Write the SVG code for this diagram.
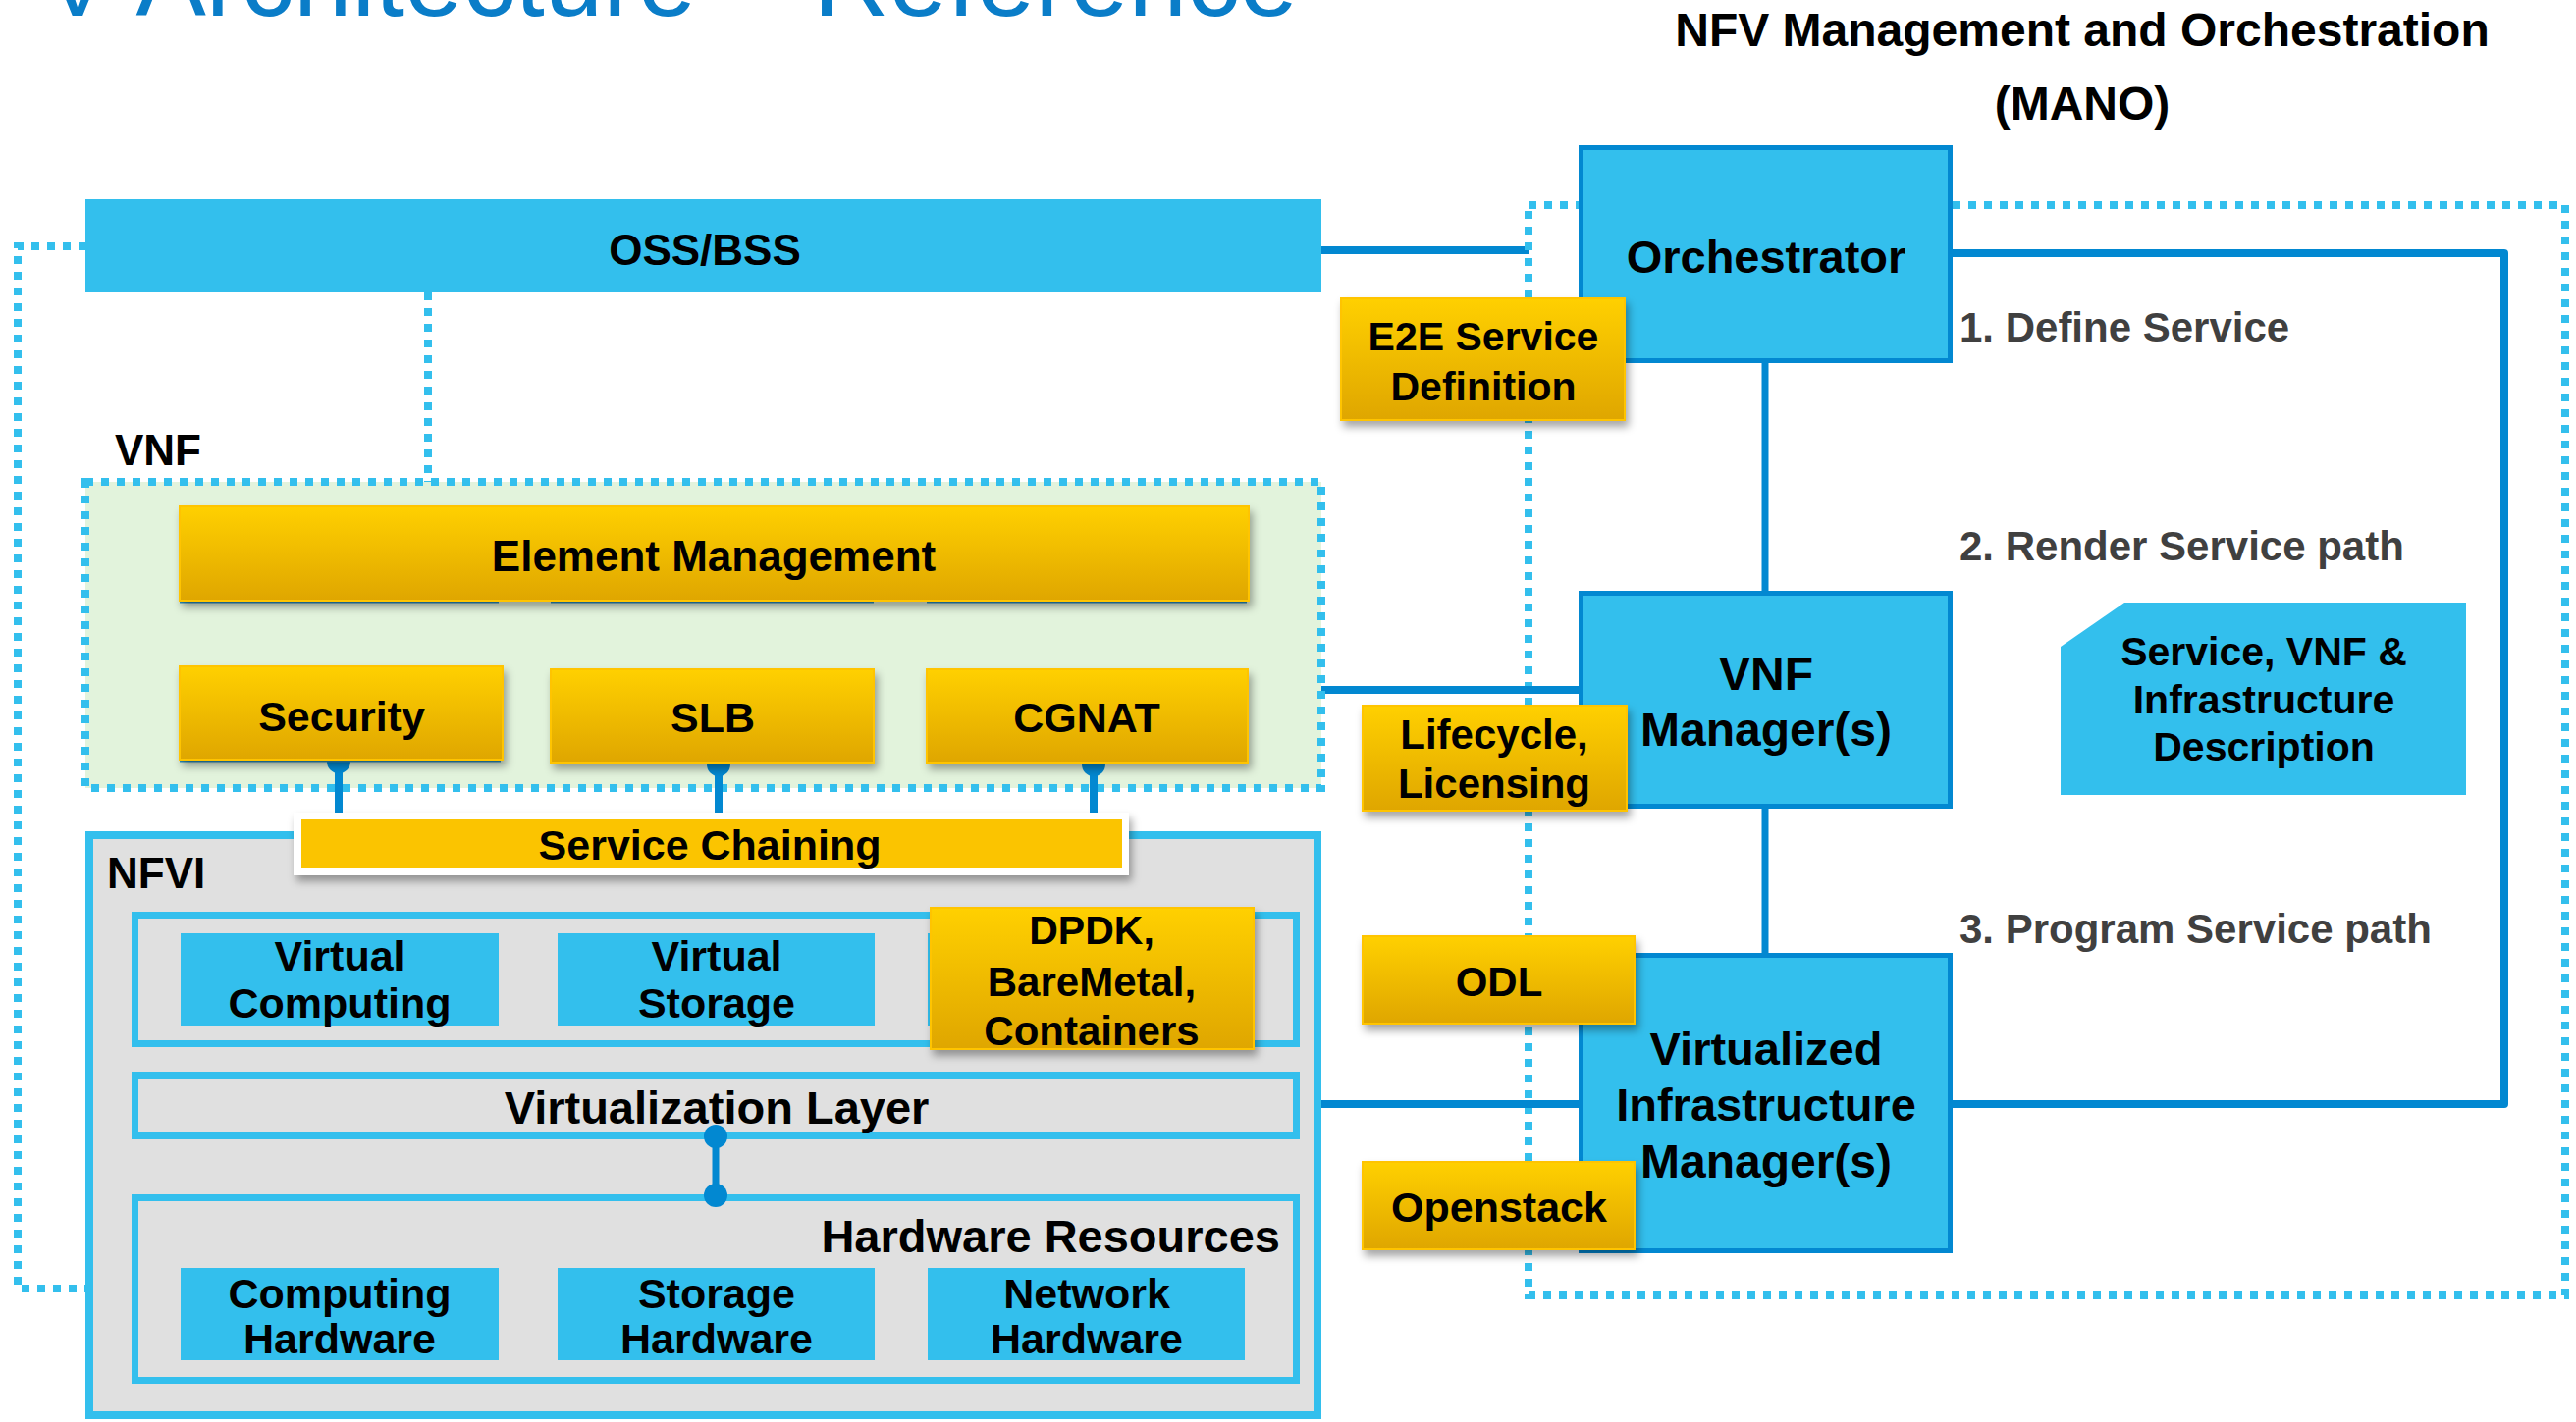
<svg xmlns="http://www.w3.org/2000/svg" width="2624" height="1449" viewBox="0 0 2624 1449">
<defs>
<linearGradient id="yg" x1="0" y1="0" x2="0" y2="1">
<stop offset="0" stop-color="#ffd000"/>
<stop offset="1" stop-color="#dfa600"/>
</linearGradient>
<filter id="sh" x="-10%" y="-10%" width="125%" height="140%">
<feDropShadow dx="3" dy="6" stdDeviation="4" flood-color="#000" flood-opacity="0.35"/>
</filter>
</defs>
<style>
.t{font-family:"Liberation Sans",Arial,sans-serif;font-weight:bold;fill:#000;text-anchor:middle;font-size:43px}
.s{text-anchor:start}
.e{text-anchor:end}
.step{font-family:"Liberation Sans",Arial,sans-serif;font-weight:bold;fill:#404040;font-size:42px}
.dot{fill:none;stroke:#33bfed;stroke-width:8;stroke-dasharray:8 8}
.sky{fill:#33bfed}
.frame{fill:#e0e0e0;stroke:#33bfed;stroke-width:7}
.mano{fill:#33bfed;stroke:#0288d1;stroke-width:5}
.yel{fill:url(#yg);stroke:#ffc400;stroke-width:2;filter:url(#sh)}
.conn{stroke:#0288d1;stroke-width:8;fill:none}
.thin{stroke:#2a8fc0;stroke-width:3}
</style>
<rect width="2624" height="1449" fill="#fff"/>
<text x="1322" y="16" font-family="'Liberation Sans',Arial,sans-serif" font-size="107" fill="#0a7dc8" text-anchor="end">NFV Architecture – Reference</text>

<g id="mano-frame">
<path class="conn" d="M1346,255 H1557"/>
<rect x="1557" y="209" width="1056" height="1111" fill="#f4f4f4" class="dot"/>
<text class="t" x="2121" y="47" font-size="48" style="font-size:48px">NFV Management and Orchestration</text>
<text class="t" x="2121" y="122" style="font-size:48px">(MANO)</text>
</g>

<g id="connectors">
<path class="dot" d="M88,251 H18 V1313 H130"/>
<path class="dot" d="M436,298 V491"/>
<path class="dot" d="M339,612 V680 M728,612 V682 M1112,612 V682"/>
<path class="conn" d="M1346,703 H1608"/>
<path class="conn" d="M1346,1125 H1608"/>
<path class="conn" style="stroke-width:7" d="M1798,370 V602 M1798,824 V971"/>
<path class="conn" stroke-linejoin="round" d="M1989,258 H2551 V1125 H1989"/>
</g>

<g id="oss-bss">
<rect x="87" y="203" width="1259" height="95" class="sky"/>
<text class="t" x="718" y="270" style="font-size:44px">OSS/BSS</text>
</g>

<g id="vnf">
<rect x="87" y="491" width="1259" height="312" fill="#e2f3dc" class="dot" style="fill:#e2f3dc"/>
<text class="t s" x="117" y="474" style="font-size:44px">VNF</text>
</g>

<g id="vnf-links">
<path class="conn" d="M345,780 V828 M732,782 V828 M1114,782 V828"/>
<circle cx="345" cy="776" r="12" fill="#0288d1"/>
<circle cx="732" cy="779" r="12" fill="#0288d1"/>
<circle cx="1114" cy="779" r="12" fill="#0288d1"/>
</g>

<g id="element-management">
<path class="thin" d="M183,613 H508 M561,613 H890 M944,613 H1270"/>
<rect x="183" y="516" width="1089" height="96" class="yel"/>
<text class="t" x="727" y="582" style="font-size:44px">Element Management</text>
</g>
<g id="security">
<path class="thin" d="M183,775 H510"/>
<rect x="183" y="679" width="329" height="95" class="yel"/>
<text class="t" x="348" y="745">Security</text>
</g>
<g id="slb">
<rect x="561" y="682" width="329" height="95" class="yel"/>
<text class="t" x="726" y="746">SLB</text>
</g>
<g id="cgnat">
<rect x="944" y="682" width="327" height="95" class="yel"/>
<text class="t" x="1107" y="746">CGNAT</text>
</g>

<g id="nfvi">
<rect x="91" y="851" width="1251" height="591" class="frame" style="stroke-width:8"/>
<text class="t s" x="109" y="905" style="font-size:44px">NFVI</text>
</g>

<g id="service-chaining">
<rect x="299" y="828" width="851" height="64" fill="#fff" filter="url(#sh)"/>
<rect x="307" y="835" width="836" height="49" fill="#fbc400"/>
<text class="t" x="723" y="876">Service Chaining</text>
</g>

<g id="virtual-resources">
<rect x="137.5" y="932.5" width="1183" height="131" class="frame"/>
</g>
<g id="virtual-computing">
<rect x="184" y="951" width="324" height="94" class="sky"/>
<text class="t" x="346" y="989">Virtual</text>
<text class="t" x="346" y="1037">Computing</text>
</g>
<g id="virtual-storage">
<rect x="568" y="951" width="323" height="94" class="sky"/>
<text class="t" x="730" y="989">Virtual</text>
<text class="t" x="730" y="1037">Storage</text>
</g>
<g id="dpdk">
<rect x="945" y="951" width="323" height="94" class="sky"/>
<rect x="948" y="925" width="329" height="144" class="yel"/>
<text class="t" x="1112" y="962" style="font-size:41px">DPDK,</text>
<text class="t" x="1112" y="1015" style="font-size:42px">BareMetal,</text>
<text class="t" x="1112" y="1065" style="font-size:42px">Containers</text>
</g>

<g id="virtualization-layer">
<rect x="137.5" y="1095.5" width="1183" height="62" class="frame"/>
<text class="t" x="730" y="1145" style="font-size:47px">Virtualization Layer</text>
</g>

<g id="hardware-resources">
<rect x="137.5" y="1220.5" width="1183" height="186" class="frame"/>
<text class="t e" x="1304" y="1276" style="font-size:47px">Hardware Resources</text>
</g>
<g id="virt-hw-link">
<path class="conn" style="stroke-width:7" d="M729,1158 V1218"/>
<circle cx="729" cy="1158" r="12" fill="#0288d1"/>
<circle cx="729" cy="1218" r="12" fill="#0288d1"/>
</g>
<g id="computing-hardware">
<rect x="184" y="1292" width="324" height="94" class="sky"/>
<text class="t" x="346" y="1333">Computing</text>
<text class="t" x="346" y="1379">Hardware</text>
</g>
<g id="storage-hardware">
<rect x="568" y="1292" width="323" height="94" class="sky"/>
<text class="t" x="730" y="1333">Storage</text>
<text class="t" x="730" y="1379">Hardware</text>
</g>
<g id="network-hardware">
<rect x="945" y="1292" width="323" height="94" class="sky"/>
<text class="t" x="1107" y="1333">Network</text>
<text class="t" x="1107" y="1379">Hardware</text>
</g>

<g id="orchestrator">
<rect x="1610.5" y="150.5" width="376" height="217" class="mano"/>
<text class="t" x="1799" y="278" style="font-size:47px">Orchestrator</text>
</g>
<g id="vnf-manager">
<rect x="1610.5" y="604.5" width="376" height="217" class="mano"/>
<text class="t" x="1799" y="703" style="font-size:48px">VNF</text>
<text class="t" x="1799" y="760" style="font-size:48px">Manager(s)</text>
</g>
<g id="vim">
<rect x="1610.5" y="973.5" width="376" height="301" class="mano"/>
<text class="t" x="1799" y="1085" style="font-size:47px">Virtualized</text>
<text class="t" x="1799" y="1142" style="font-size:47px">Infrastructure</text>
<text class="t" x="1799" y="1200" style="font-size:48px">Manager(s)</text>
</g>

<g id="steps">
<text class="step" x="1996" y="348">1. Define Service</text>
<text class="step" x="1996" y="571">2. Render Service path</text>
<text class="step" x="1996" y="961">3. Program Service path</text>
</g>

<g id="descriptors">
<polygon points="2099,659 2164,614 2512,614 2512,810 2099,810" class="sky"/>
<text class="t" x="2306" y="678" style="font-size:41px">Service, VNF &amp;</text>
<text class="t" x="2306" y="727" style="font-size:41px">Infrastructure</text>
<text class="t" x="2306" y="775" style="font-size:41px">Description</text>
</g>

<g id="e2e-service-definition">
<rect x="1366" y="304" width="289" height="124" class="yel"/>
<text class="t" x="1511" y="357" style="font-size:41px">E2E Service</text>
<text class="t" x="1511" y="408" style="font-size:41px">Definition</text>
</g>
<g id="lifecycle-licensing">
<rect x="1388" y="719" width="269" height="107" class="yel"/>
<text class="t" x="1522" y="763" style="font-size:42px">Lifecycle,</text>
<text class="t" x="1522" y="813" style="font-size:42px">Licensing</text>
</g>
<g id="odl">
<rect x="1388" y="954" width="277" height="89" class="yel"/>
<text class="t" x="1527" y="1015" style="font-size:42px">ODL</text>
</g>
<g id="openstack">
<rect x="1388" y="1184" width="277" height="89" class="yel"/>
<text class="t" x="1527" y="1245">Openstack</text>
</g>
</svg>
